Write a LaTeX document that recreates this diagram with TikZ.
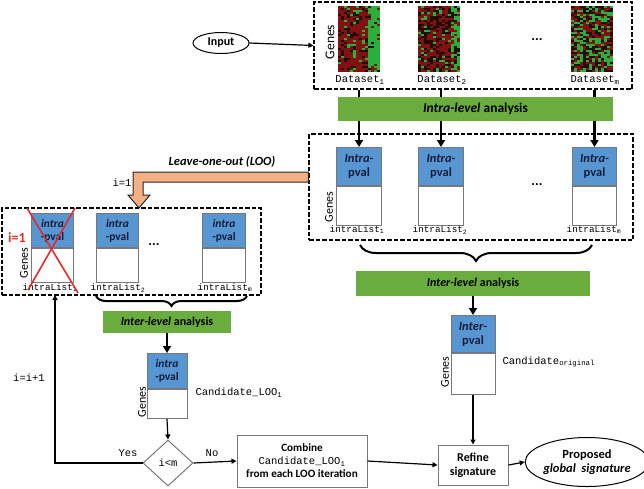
\documentclass[tikz,border=0pt]{standalone}
\usepackage{fontspec}
\setmainfont{Carlito}
\setsansfont{Carlito}
\setmonofont{Liberation Mono}
\usetikzlibrary{arrows.meta,shapes.geometric,decorations.pathreplacing,calc}
\definecolor{barG}{RGB}{106,173,62}
\definecolor{boxB}{RGB}{88,150,210}
\definecolor{edgeG}{RGB}{120,120,120}
\definecolor{looC}{RGB}{244,176,132}
\definecolor{hmR}{RGB}{130,18,18}
\definecolor{hmK}{RGB}{35,12,6}
\definecolor{hmG}{RGB}{40,175,60}
\definecolor{xred}{RGB}{225,45,45}
\definecolor{navy}{RGB}{20,30,60}
\newcommand\hmap[7]{%
 \foreach \ci in {0,...,13}{%
  \foreach \cj in {0,...,32}{%
   \pgfmathrandominteger{\rr}{0}{99}%
   \ifnum\ci<#3\relax\def\pr{#4}\def\pk{#5}\else\def\pr{#6}\def\pk{#7}\fi
   \pgfmathtruncatemacro{\prk}{\pr+\pk}%
   \ifnum\rr<\pr\relax\def\cc{hmR}\else\ifnum\rr<\prk\relax\def\cc{hmK}\else\def\cc{hmG}\fi\fi
   \fill[\cc] ({#1+3*\ci},{#2+2*\cj}) rectangle ++(3.1,2.1);
  }}}
\tikzset{
 dbox/.style={draw, dash pattern=on 4.5pt off 2pt, line width=1.3pt, inner sep=0pt},
 bar/.style={fill=barG, inner sep=0pt, font=\bfseries\fontsize{13.5}{15}\selectfont},
 sbar/.style={bar, font=\bfseries\fontsize{12}{14}\selectfont},
 bluebox/.style={fill=boxB, draw=edgeG, line width=1pt, inner sep=0pt, align=center, text=navy,
   font=\bfseries\fontsize{12.5}{14}\selectfont},
 lbluebox/.style={bluebox, font=\bfseries\fontsize{11.5}{13}\selectfont},
 whitebox/.style={fill=white, draw=edgeG, line width=1pt, inner sep=0pt},
 genes/.style={rotate=90, font=\fontsize{12}{14}\selectfont},
 mono/.style={font=\ttfamily\fontsize{10.5}{12}\selectfont},
 smono/.style={font=\ttfamily\fontsize{9.3}{11}\selectfont},
 bigarrow/.style={line width=2.5pt, -{Triangle[length=7pt,width=8pt]}},
 thinarrow/.style={line width=1.2pt, -{Triangle[length=5pt,width=5pt]}},
 procbox/.style={draw=edgeG, line width=1pt, fill=white, align=center, inner sep=0pt,
   font=\bfseries\fontsize{12}{14}\selectfont},
 dotsstyle/.style={font=\bfseries\fontsize{14}{16}\selectfont},
 bracestyle/.style={line width=2pt, decorate, decoration={brace, mirror, amplitude=#1}},
}
\begin{document}
\begin{tikzpicture}[x=1pt,y=-1pt]
\useasboundingbox (0,0) rectangle (644,488);
% ---------- top: input and datasets ----------
\node[ellipse, draw, line width=1pt, minimum width=56, minimum height=21, inner sep=0pt,
  font=\bfseries\fontsize{12}{14}\selectfont] (input) at (221,43) {Input};
\node[dbox, minimum width=318, minimum height=87] (top) at (473,45.5) {};
\pgfmathsetseed{11}
\hmap{338}{6}{10}{68}{22}{8}{4}
\hmap{418}{6}{11}{48}{38}{22}{18}
\hmap{571}{6}{14}{34}{34}{34}{34}
\node[genes, font=\fontsize{13.5}{16}\selectfont] (g0) at (330,42) {Genes};
\node[dotsstyle] (dots0) at (537,40) {...};
\node[mono] (d1) at (360,80) {Dataset\textsubscript{1}};
\node[mono] (d2) at (442,80) {Dataset\textsubscript{2}};
\node[mono] (dm) at (595,80) {Dataset\textsubscript{m}};
\draw[thinarrow] (input.east) -- (top.west);
% ---------- intra lists (right) ----------
\node[dbox, minimum width=324, minimum height=106] (mid) at (471,187) {};
\node[bluebox, minimum width=45, minimum height=38, anchor=north west] (b1) at (336,147) {\textit{Intra-}\\pval};
\node[whitebox, minimum width=45, minimum height=39, anchor=north] (w1) at (b1.south) {};
\node[bluebox, minimum width=45, minimum height=38, anchor=north west] (b2) at (418,147) {\textit{Intra-}\\pval};
\node[whitebox, minimum width=45, minimum height=39, anchor=north] (w2) at (b2.south) {};
\node[bluebox, minimum width=44, minimum height=38, anchor=north west] (bm) at (572,147) {\textit{Intra-}\\pval};
\node[whitebox, minimum width=44, minimum height=39, anchor=north] (wm) at (bm.south) {};
\node[genes] (g1) at (329,207) {Genes};
\node[dotsstyle] (dots1) at (537,185) {...};
\node[smono] (il1) at (357,230) {intraList\textsubscript{1}};
\node[smono] (il2) at (440,230) {intraList\textsubscript{2}};
\node[smono] (ilm) at (594,230) {intraList\textsubscript{m}};
% intra-level bar with arrows behind
\draw[bigarrow] (top.south -| b1.north) -- (b1.north);
\draw[bigarrow] (top.south -| b2.north) -- (b2.north);
\draw[bigarrow] (top.south -| bm.north) -- (bm.north);
\node[bar, minimum width=275, minimum height=24] (intra) at (475.5,109) {\textit{Intra-level} analysis};
% brace and inter-level bar
\draw[bracestyle=16] (360,245) -- (592,245);
\node[sbar, minimum width=234, minimum height=25] (inter) at (473,283.5) {\textit{Inter-level} analysis};
\node[bluebox, minimum width=44, minimum height=37, anchor=north] (ib) at (473,315) {\textit{Inter-}\\pval};
\node[whitebox, minimum width=44, minimum height=41, anchor=north] (iw) at (ib.south) {};
\node[genes] (g2) at (445,372) {Genes};
\node[mono, anchor=west] (cand) at (499,362) {Candidate\textsubscript{original}};
\draw[bigarrow] (inter.south) -- (ib.north);
% ---------- bottom right ----------
\node[procbox, minimum width=70, minimum height=40] (refine) at (473,465) {Refine\\signature};
\node[ellipse, draw, line width=1pt, minimum width=108, minimum height=49, inner sep=0pt, align=center,
  font=\bfseries\fontsize{12.5}{14.5}\selectfont] (prop) at (587,462) {Proposed\\\textit{global\ \ signature}};
\node[procbox, minimum width=130, minimum height=52, font=\bfseries\fontsize{11.2}{13}\selectfont] (comb) at (302,461)
  {Combine\\{\mdseries\ttfamily\fontsize{10.5}{13}\selectfont Candidate\_LOO\textsubscript{1}}\\from each LOO iteration};
\draw[thinarrow] (iw.south) -- (refine.north);
\draw[thinarrow] (comb.east) -- (refine.west);
\draw[thinarrow] (refine.east) -- (prop.west);
% ---------- LOO part (left) ----------
\node[dbox, minimum width=259, minimum height=87] (left) at (131.5,251.5) {};
\node[lbluebox, minimum width=42, minimum height=34, anchor=north west] (lb1) at (31,213) {\textit{intra}\\-pval};
\node[whitebox, minimum width=42, minimum height=34, anchor=north] (lw1) at (lb1.south) {};
\node[lbluebox, minimum width=42, minimum height=34, anchor=north west] (lb2) at (96,213) {\textit{intra}\\-pval};
\node[whitebox, minimum width=42, minimum height=34, anchor=north] (lw2) at (lb2.south) {};
\node[lbluebox, minimum width=43, minimum height=34, anchor=north west] (lbm) at (202,213) {\textit{intra}\\-pval};
\node[whitebox, minimum width=43, minimum height=34, anchor=north] (lwm) at (lbm.south) {};
\node[genes] (g3) at (24,263) {Genes};
\node[dotsstyle] (dots2) at (154,245) {...};
\node[smono] (ll1) at (50,288) {intraList\textsubscript{1}};
\node[smono] (ll2) at (118,288) {intraList\textsubscript{2}};
\node[smono] (llm) at (225,288) {intraList\textsubscript{m}};
\node[text=xred, font=\bfseries\fontsize{14}{16}\selectfont] (i1red) at (17,238) {i=1};
\draw[xred, line width=1.6pt] (27,208) -- (78,293);
\draw[xred, line width=1.6pt] (75,208) -- (28,290);
% orange LOO arrow
\fill[looC, draw=black!85, line width=1pt] (mid.west |- 0,172) -- (133,172) -- (133,195) -- (128,195)
  -- (139,208) -- (150,195) -- (143,195) -- (143,182) -- (mid.west |- 0,182) -- cycle;
\node[font=\bfseries\itshape\fontsize{12.5}{14}\selectfont] (loolbl) at (222,162) {Leave-one-out (LOO)};
\node[mono] (i1) at (122,183) {i=1};
% brace, inter bar, candidate
\draw[bracestyle=10] (96,296) -- (247,296);
\node[sbar, minimum width=128, minimum height=22] (linter) at (167,322) {\textit{Inter-level} analysis};
\node[lbluebox, minimum width=40, minimum height=35, anchor=north] (cb) at (167,353) {\textit{intra}\\-pval};
\node[whitebox, minimum width=40, minimum height=29, anchor=north] (cw) at (cb.south) {};
\node[genes] (g4) at (142,402) {Genes};
\node[mono, anchor=west] (cl) at (192,393) {Candidate\_LOO\textsubscript{1}};
\draw[bigarrow] (linter.south) -- (cb.north);
% decision
\node[diamond, draw=edgeG, line width=1pt, fill=white, minimum width=50, minimum height=46, inner sep=0pt,
  font=\ttfamily\fontsize{10.5}{12}\selectfont] (dia) at (168,463) {i<m};
\draw[thinarrow] (cw.south) -- (dia.north);
\coordinate (ret) at (55,295);
\draw[thinarrow] (dia.west) -| (ret);
\draw[thinarrow] (dia.east) -- (comb.west);
\node[mono] (yes) at (128,453) {Yes};
\node[mono] (no) at (212,453) {No};
\node[mono] (inc) at (29,378) {i=i+1};
\end{tikzpicture}
\end{document}
